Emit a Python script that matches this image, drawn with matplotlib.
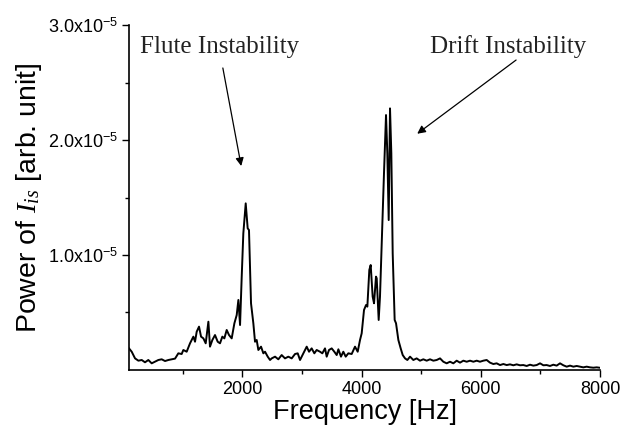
import matplotlib
matplotlib.use("Agg")
import matplotlib.pyplot as plt
import numpy as np

freq_hz = [
    100, 145, 201, 257, 313, 368, 424, 480, 536, 592, 648, 704, 760, 816, 872,
    927, 983, 1011, 1067, 1123, 1179, 1207, 1235, 1274, 1308, 1347, 1386, 1431,
    1458, 1498, 1542, 1587, 1626, 1665, 1699, 1738, 1777, 1822, 1867, 1906,
    1934, 1962, 1990, 2017, 2057, 2090, 2112, 2146, 2185, 2213, 2241, 2269,
    2314, 2353, 2381, 2426, 2465, 2493, 2549, 2604, 2660, 2716, 2772, 2828,
    2884, 2929, 2968, 3024, 3080, 3119, 3163, 3208, 3247, 3303, 3342, 3387,
    3415, 3454, 3499, 3543, 3583, 3611, 3655, 3694, 3734, 3778, 3834, 3890,
    3935, 3974, 4002, 4041, 4075, 4097, 4130, 4153, 4186, 4209, 4242, 4254,
    4287, 4309, 4343, 4376, 4410, 4432, 4455, 4477, 4499, 4522, 4555, 4578,
    4617, 4656, 4690, 4729, 4768, 4813, 4868, 4924, 4980, 5036, 5092, 5148,
    5204, 5260, 5316, 5371, 5427, 5483, 5539, 5595, 5651, 5707, 5763, 5819,
    5875, 5931, 5986, 6042, 6098, 6154, 6210, 6266, 6322, 6378, 6434, 6490,
    6545, 6601, 6657, 6713, 6769, 6825, 6881, 6937, 6993, 7049, 7104, 7160,
    7216, 7272, 7328, 7384, 7440, 7496, 7552, 7608, 7663, 7719, 7775, 7831,
    7887, 7943, 7988,
]
# potencia en unidades de 1e-5
power = [
    0.188, 0.159, 0.101, 0.081, 0.087, 0.067, 0.087, 0.058, 0.072, 0.087,
    0.093, 0.078, 0.087, 0.093, 0.099, 0.145, 0.139, 0.174, 0.159, 0.232,
    0.290, 0.246, 0.333, 0.377, 0.290, 0.275, 0.232, 0.420, 0.203, 0.261,
    0.304, 0.246, 0.232, 0.290, 0.275, 0.348, 0.304, 0.275, 0.406, 0.478,
    0.609, 0.391, 0.812, 1.188, 1.449, 1.232, 1.217, 0.580, 0.406, 0.246,
    0.261, 0.174, 0.203, 0.145, 0.159, 0.116, 0.087, 0.101, 0.116, 0.093,
    0.130, 0.101, 0.116, 0.101, 0.139, 0.145, 0.087, 0.145, 0.203, 0.159,
    0.188, 0.145, 0.174, 0.159, 0.145, 0.188, 0.116, 0.174, 0.188, 0.159,
    0.130, 0.180, 0.116, 0.159, 0.116, 0.145, 0.139, 0.203, 0.159, 0.261,
    0.319, 0.522, 0.565, 0.551, 0.870, 0.913, 0.638, 0.580, 0.812, 0.797,
    0.435, 0.638, 1.188, 1.710, 2.217, 1.884, 1.304, 2.275, 1.884, 1.014,
    0.435, 0.406, 0.261, 0.188, 0.130, 0.101, 0.087, 0.116, 0.087, 0.101,
    0.081, 0.093, 0.081, 0.093, 0.081, 0.087, 0.101, 0.072, 0.058, 0.072,
    0.058, 0.081, 0.064, 0.081, 0.072, 0.081, 0.072, 0.081, 0.072, 0.081,
    0.087, 0.064, 0.052, 0.058, 0.043, 0.052, 0.043, 0.049, 0.041, 0.049,
    0.041, 0.043, 0.035, 0.046, 0.038, 0.043, 0.058, 0.041, 0.043, 0.035,
    0.046, 0.038, 0.058, 0.041, 0.029, 0.038, 0.029, 0.035, 0.029, 0.023,
    0.029, 0.023, 0.020, 0.023, 0.020,
]

x_ticks = [2000, 4000, 6000, 8000]
y_ticks = [1.0e-5, 2.0e-5, 3.0e-5]
y_tick_labels = [r"1.0x10$^{-5}$", r"2.0x10$^{-5}$", r"3.0x10$^{-5}$"]

plt.rcParams["font.family"] = ["Liberation Sans", "DejaVu Sans"]
plt.rcParams["mathtext.fontset"] = "custom"
plt.rcParams["mathtext.rm"] = "Liberation Sans"
plt.rcParams["mathtext.it"] = "Liberation Serif:italic"

fig = plt.figure(figsize=(6.34, 4.41), dpi=100)
ax = fig.add_axes([0.2035, 0.161, 0.743, 0.7823])

ax.plot(freq_hz, np.array(power) * 1e-5, color="black", lw=1.4)

ax.set_xlim(100, 8000)
ax.set_ylim(0, 3.0e-5)
ax.set_xticks(x_ticks)
ax.set_xticks([1000, 3000, 5000, 7000], minor=True)
ax.set_yticks(y_ticks)
ax.set_yticklabels(y_tick_labels)
ax.set_yticks([0.5e-5, 1.5e-5, 2.5e-5], minor=True)
ax.tick_params(which="major", direction="out", length=5, width=1, labelsize=13, pad=3)
ax.tick_params(which="minor", direction="out", length=3, width=1)
ax.spines["top"].set_visible(False)
ax.spines["right"].set_visible(False)
for s in ("left", "bottom"):
    ax.spines[s].set_linewidth(1.2)

ax.set_xlabel("Frequency [Hz]", fontsize=19.5, labelpad=1)
ax.set_ylabel(r"Power of $I_{is}$ [arb. unit]", fontsize=20.5, labelpad=3)

serif = ["Liberation Serif", "DejaVu Serif"]
ax.text(284, 2.76e-5, "Flute Instability", family=serif, fontsize=18,
        va="baseline", color="#222222")
ax.text(5148, 2.76e-5, "Drift Instability", family=serif, fontsize=18,
        va="baseline", color="#222222")
arrow = dict(arrowstyle="-|>", color="black", lw=0.9, mutation_scale=12)
ax.annotate("", xy=(1990, 1.75e-5), xytext=(1665, 2.65e-5), arrowprops=arrow)
ax.annotate("", xy=(4896, 2.04e-5), xytext=(6629, 2.71e-5), arrowprops=arrow)

fig.savefig("out.png", dpi=100)
